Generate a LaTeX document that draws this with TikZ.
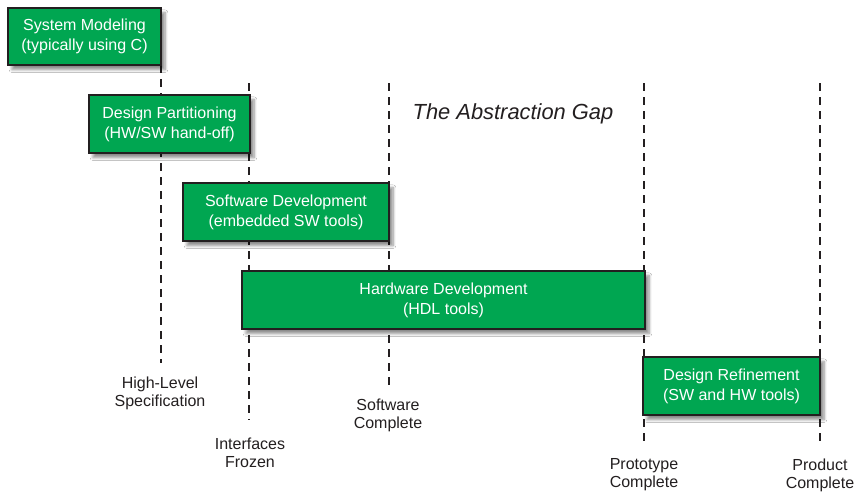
\documentclass[tikz,border=0pt]{standalone}
\usepackage{fontspec}
\setmainfont{Liberation Sans}
\usetikzlibrary{shadows.blur}
\definecolor{boxgreen}{RGB}{0,166,81}
\definecolor{edge}{RGB}{35,31,32}
\begin{document}
\begin{tikzpicture}[x=0.75pt,y=-0.75pt,
  phase/.style={draw=edge, line width=1.6pt, fill=boxgreen, text=white, align=center,
    inner sep=0pt, font=\fontsize{12}{15}\selectfont,
    blur shadow={shadow xshift=3pt, shadow yshift=-3.5pt, shadow blur steps=6, shadow opacity=45}},
  marker/.style={draw=edge, line width=1.5pt, dash pattern=on 6pt off 4.5pt},
  milestone/.style={align=center, text=edge, inner sep=0pt, font=\fontsize{12}{13.5}\selectfont}]
\useasboundingbox[fill=white] (0,0) rectangle (857,493);

% dashed milestone lines
\coordinate (a1) at (161,65);  \coordinate (a2) at (161,363);
\coordinate (b1) at (249,83);  \coordinate (b2) at (249,420);
\coordinate (c1) at (389,83);  \coordinate (c2) at (389,391);
\coordinate (d1) at (644,83);  \coordinate (d2) at (644,443);
\coordinate (e1) at (820,83);  \coordinate (e2) at (820,443);
\draw[marker] (a1) -- (a2);
\draw[marker] (b1) -- (b2);
\draw[marker] (c1) -- (c2);
\draw[marker] (d1) -- (d2);
\draw[marker] (e1) -- (e2);

% phases
\node[phase, minimum width=114.75pt, minimum height=42.75pt] (sysmod) at (84.5,36.5) {System Modeling\\(typically using C)};
\node[phase, minimum width=120.75pt, minimum height=43.5pt] (part) at (169.5,124) {Design Partitioning\\(HW/SW hand-off)};
\node[phase, minimum width=154.5pt, minimum height=43.5pt] (swdev) at (286,212) {Software Development\\(embedded SW tools)};
\node[phase, minimum width=302.25pt, minimum height=43.5pt] (hwdev) at (443.5,300) {Hardware Development\\(HDL tools)};
\node[phase, minimum width=132.75pt, minimum height=43.5pt] (refine) at (731.5,386) {Design Refinement\\(SW and HW tools)};

% title
\node[text=edge, font=\fontsize{16.4}{19}\selectfont\itshape] (title) at (513,114) {The Abstraction Gap};

% milestone labels
\node[milestone] (hls) at (160,393) {High-Level\\Specification};
\node[milestone] (ifz) at (250,453) {Interfaces\\Frozen};
\node[milestone] (swc) at (388,415) {Software\\Complete};
\node[milestone] (ptc) at (644,475) {Prototype\\Complete};
\node[milestone] (prc) at (820,475) {Product\\Complete};
\end{tikzpicture}
\end{document}
